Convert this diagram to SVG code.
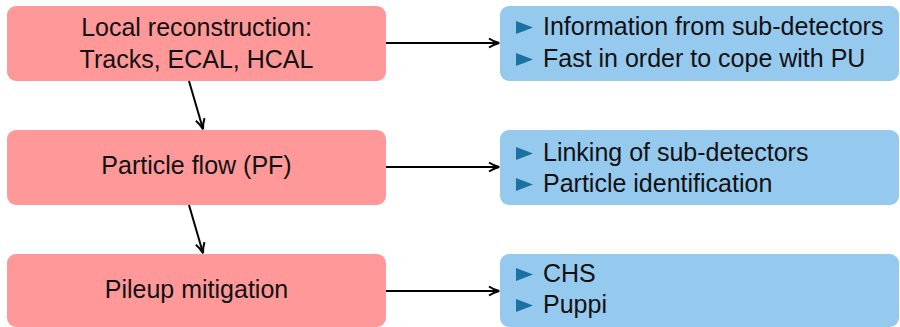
<svg xmlns="http://www.w3.org/2000/svg" width="900" height="327" viewBox="0 0 900 327">
<style>
.red{fill:#ff9999;}
.blue{fill:#96c9ee;}
.t{font-family:"Liberation Sans","Open Sans",sans-serif;font-size:25px;fill:#111;}
.c{text-anchor:middle;}
.b{fill:#1b72a2;}
.e{stroke:#000;stroke-width:2;fill:none;}
</style>
<defs>
<marker id="ah" viewBox="0 0 12 12" refX="11" refY="6" markerWidth="12" markerHeight="12" markerUnits="userSpaceOnUse" orient="auto">
<path d="M1,1.5 Q6,4.8 11.2,6 Q6,7.2 1,10.5" stroke="#000" stroke-width="2" fill="none"/>
</marker>
<polygon id="tri" points="0,-6.5 17,0 0,6.5"/>
</defs>
<g id="n1"><rect class="red" x="7" y="6" width="379" height="75" rx="9"/>
<text class="t c" x="196.5" y="36">Local reconstruction:</text>
<text class="t c" x="196.5" y="68">Tracks, ECAL, HCAL</text></g>
<g id="n2"><rect class="red" x="7" y="130" width="379" height="75" rx="9"/>
<text class="t c" x="196.5" y="174">Particle flow (PF)</text></g>
<g id="n3"><rect class="red" x="7" y="254" width="379" height="73" rx="9"/>
<text class="t c" x="196.5" y="298">Pileup mitigation</text></g>
<g id="i1"><rect class="blue" x="500" y="6" width="399" height="75" rx="9"/>
<use href="#tri" class="b" x="516" y="27.5"/><use href="#tri" class="b" x="516" y="59.5"/>
<text class="t" x="543" y="35">Information from sub-detectors</text>
<text class="t" x="543" y="67">Fast in order to cope with PU</text></g>
<g id="i2"><rect class="blue" x="500" y="130" width="399" height="75" rx="9"/>
<use href="#tri" class="b" x="516" y="153.5"/><use href="#tri" class="b" x="516" y="184.5"/>
<text class="t" x="543" y="161">Linking of sub-detectors</text>
<text class="t" x="543" y="192">Particle identification</text></g>
<g id="i3"><rect class="blue" x="500" y="254" width="399" height="73" rx="9"/>
<use href="#tri" class="b" x="516" y="274.5"/><use href="#tri" class="b" x="516" y="305.5"/>
<text class="t" x="543" y="282">CHS</text>
<text class="t" x="543" y="313">Puppi</text></g>
<g id="edges">
<line class="e" x1="386" y1="43" x2="499" y2="43" marker-end="url(#ah)"/>
<line class="e" x1="386" y1="167" x2="499" y2="167" marker-end="url(#ah)"/>
<line class="e" x1="386" y1="291" x2="499" y2="291" marker-end="url(#ah)"/>
<line class="e" x1="189" y1="81" x2="203" y2="129" marker-end="url(#ah)"/>
<line class="e" x1="189" y1="205" x2="203" y2="253" marker-end="url(#ah)"/>
</g>
</svg>
